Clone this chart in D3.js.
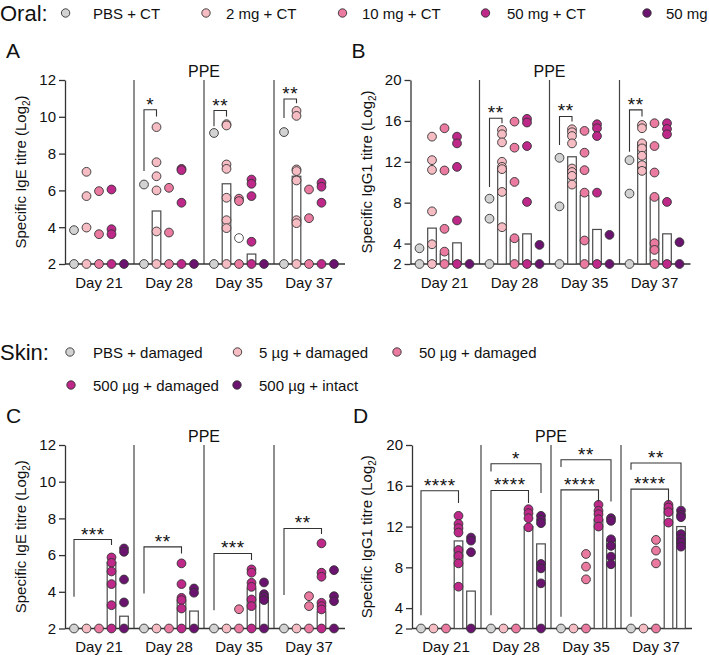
<!DOCTYPE html>
<html lang="en">
<head>
<meta charset="UTF-8">
<script src="https://d3js.org/d3.v7.min.js"></script>
<title>PPE titres</title>
<style>
  body { margin: 0; background: #fff; }
  svg text { font-family: "Liberation Sans", Arial, sans-serif; fill: #111; }
</style>
</head>
<body>
<svg id="fig" width="709" height="655"></svg>
<script>
// ---- data ----
const days = ["Day 21", "Day 28", "Day 35", "Day 37"];
const oralGroups = ["PBS + CT", "2 mg + CT", "10 mg + CT", "50 mg + CT", "50 mg"];
const skinGroups = ["PBS + damaged", "5 µg + damaged", "50 µg + damaged", "500 µg + damaged", "500 µg + intact"];
const groupColors = ["#d2d2d2", "#f6bcc3", "#eb7aa0", "#bd2889", "#6a1470"];

// values per day -> per group (Log2 titre)
const igeOral = [
  [[3.84, 2], [7.01, 5.69, 3.98, 2], [5.96, 3.62, 2], [6.05, 3.89, 3.62, 2], [2]],
  [[6.32, 2], [9.44, 7.53, 6.77, 6.0, 3.77, 2], [6.14, 3.71, 2], [7.17, 7.1, 5.33, 2], [2]],
  [[9.12, 2], [9.6, 9.53, 7.41, 7.17, 5.6, 4.38, 3.95, 2], [5.55, 5.42, 2], [6.59, 6.36, 5.69, 3.21, 2], [2]],
  [[9.17, 2], [10.32, 10.05, 7.14, 7.05, 6.54, 4.38, 4.22, 2], [6.05, 4.49, 2], [6.41, 6.2, 5.33, 2], [2]]
];
const igeOralMedian = [
  [null, null, null, null, null],
  [null, 4.88, null, null, null],
  [null, 6.36, null, 2.54, null],
  [null, 6.77, null, null, null]
];
const igeOralOpen = [[2, 2, 3.41]]; // [day, group, value], unfilled marker
const igeOralSig = [
  [1, 0, 1, 10.38, 7.05, 10.02, "*"],
  [2, 0, 1, 10.34, 9.48, 10.02, "**"],
  [3, 0, 1, 10.97, 9.93, 10.74, "**"]
];

const igg1Oral = [
  [[3.54, 2], [14.46, 12.16, 11.21, 7.15, 3.93, 2], [15.28, 11.15, 5.44, 3.21, 2], [14.46, 13.8, 11.5, 6.26, 2], [2]],
  [[8.39, 6.43, 2], [15.11, 14.69, 13.9, 12.0, 11.5, 11.28, 9.05, 5.6], [15.93, 13.38, 10.03, 4.52, 2], [16.2, 15.84, 13.54, 8.07, 2], [3.87, 2]],
  [[12.39, 7.64, 2], [15.18, 14.89, 14.52, 13.8, 11.34, 11.0, 10.62, 9.77], [15.02, 12.89, 11.18, 8.98, 4.3, 2], [15.67, 15.28, 14.52, 8.98, 2], [4.85, 2]],
  [[12.16, 8.89, 2], [15.6, 15.28, 13.8, 13.31, 12.59, 11.67, 11.11], [15.77, 13.54, 10.95, 8.56, 4.03, 3.38, 2], [15.77, 15.21, 14.69, 8.07, 2], [4.13, 2]]
];
const igg1OralMedian = [
  [null, 5.51, 3.0, 4.07, null],
  [null, 11.34, 4.39, 4.95, null],
  [null, 12.49, 8.72, 5.38, null],
  [null, 13.9, 8.46, 4.95, null]
];
const igg1OralSig = [
  [1, 0, 1, 16.26, 9.54, 15.77, "**"],
  [2, 0, 1, 16.43, 13.64, 15.93, "**"],
  [3, 0, 1, 17.08, 12.98, 16.43, "**"]
];

const igeSkin = [
  [[2], [2], [2], [5.87, 5.58, 5.11, 4.42, 3.27, 2], [6.36, 6.18, 4.67, 3.42, 2]],
  [[2], [2], [2], [5.55, 4.42, 3.67, 3.55, 3.09, 2], [4.18, 3.95, 2]],
  [[2], [2], [3.05, 2], [5.22, 5.04, 4.49, 4.27, 3.58, 3.22, 2], [4.51, 3.87, 3.73, 3.55, 2]],
  [[2], [2], [3.76, 3.22, 2], [6.64, 5.04, 4.82, 3.4, 3.22, 3.04, 2], [5.18, 3.76, 3.49, 2]]
];
const igeSkinMedian = [
  [null, null, null, 5.6, 2.67],
  [null, null, null, 3.55, 2.95],
  [null, null, null, 4.18, 3.73],
  [null, null, null, 2.91, null]
];
const igeSkinSig = [
  [0, 0, 3, 6.85, 3.73, 6.55, "***"],
  [1, 0, 3, 6.45, 3.91, 6.09, "**"],
  [2, 0, 3, 6.09, 3.0, 5.73, "***"],
  [3, 0, 3, 7.45, 3.82, 7.15, "**"]
];

const igg1Skin = [
  [[2], [2], [2], [13.05, 12.26, 11.84, 11.41, 9.7, 9.11, 8.39, 6.1], [10.92, 10.62, 9.48, 2]],
  [[2], [2], [2], [13.7, 13.31, 12.82, 11.93], [13.05, 12.66, 12.33, 8.33, 7.9, 6.43, 2]],
  [[2], [2], [9.31, 8.07, 6.82, 2], [14.13, 13.54, 13.21, 12.72, 12.0], [12.82, 12.56, 10.75, 10.1, 9.05, 8.3]],
  [[2], [2], [10.69, 9.64, 8.39, 2], [14.13, 13.87, 13.41, 12.39], [13.57, 13.15, 12.92, 11.25, 10.79, 10.43, 10.03]]
];
const igg1SkinMedian = [
  [null, null, null, 10.59, 5.67],
  [null, null, null, 12.0, 10.3],
  [null, null, null, 12.66, 10.69],
  [null, null, null, 13.8, 12.0]
];
const igg1SkinSig = [
  [0, 0, 3, 15.51, 3.31, 14.3, "****"],
  [1, 0, 3, 15.54, 3.31, 14.3, "****"],
  [1, 0, 4, 18.16, 17.4, 15.28, "*"],
  [2, 0, 3, 15.6, 3.15, 14.46, "****"],
  [2, 0, 4, 18.56, 17.84, 14.46, "**"],
  [3, 0, 3, 15.67, 3.15, 14.46, "****"],
  [3, 0, 4, 18.23, 17.57, 14.03, "**"]
];

const igeTicks = [2, 4, 6, 8, 10, 12];
const igg1Ticks = [2, 4, 8, 12, 16, 20];

// ---- drawing ----
const svg = d3.select("#fig");
const R = 4.4;

function drawPanel(c) {
  const g = svg.append("g");
  const x = d3.scaleBand().domain(days).range([c.x0, c.x0 + 280]);
  const gx = d3.scalePoint().domain(d3.range(5)).range([10, 60]);
  const y = d3.scaleLinear().domain([2, c.ticks[c.ticks.length - 1]]).range([c.yBot, c.yTop]);
  const px = (d, k) => x(days[d]) + gx(k);

  // panel letter + title
  g.append("text").attr("x", c.axisX - 59).attr("y", c.yTop - 22)
    .attr("font-size", 21).text(c.letter);
  g.append("text").attr("x", c.x0 + 140).attr("y", c.yTop - 3)
    .attr("text-anchor", "middle").attr("font-size", 16).text("PPE");

  // separators between days
  g.selectAll("line.sep").data(days.slice(1)).join("line").attr("class", "sep")
    .attr("x1", d => x(d)).attr("x2", d => x(d))
    .attr("y1", c.yTop).attr("y2", c.yBot)
    .attr("stroke", "#444").attr("stroke-width", 1.2);

  // y axis
  g.append("g").attr("transform", `translate(${c.axisX},0)`)
    .call(d3.axisLeft(y).tickValues(c.ticks).tickSize(6).tickSizeOuter(0).tickPadding(3))
    .call(a => a.selectAll("text").attr("font-size", 15).attr("font-family", null))
    .call(a => a.selectAll("line,path").attr("stroke", "#333").attr("stroke-width", 1.3));

  // x axis
  g.append("line").attr("x1", c.axisX).attr("x2", c.x0 + 281)
    .attr("y1", c.yBot).attr("y2", c.yBot).attr("stroke", "#333").attr("stroke-width", 1.3);
  g.append("g").attr("transform", `translate(0,${c.yBot})`)
    .call(d3.axisBottom(x).tickSize(0).tickPadding(13))
    .call(a => a.select(".domain").remove())
    .call(a => a.selectAll("text").attr("font-size", 15).attr("font-family", null));

  // y title
  const t = g.append("text")
    .attr("transform", `translate(${c.titleX},${(c.yTop + c.yBot) / 2}) rotate(-90)`)
    .attr("text-anchor", "middle").attr("font-size", 15);
  t.append("tspan").text(c.yLabel + " (Log");
  t.append("tspan").attr("font-size", 10).attr("dy", 4).text("2");
  t.append("tspan").attr("dy", -4).text(")");

  // median bars
  const bars = [];
  c.median.forEach((row, d) => row.forEach((v, k) => { if (v != null) bars.push({ d, k, v }); }));
  g.selectAll("rect.bar").data(bars).join("rect").attr("class", "bar")
    .attr("x", b => px(b.d, b.k) - 4.3).attr("width", 8.6)
    .attr("y", b => y(b.v)).attr("height", b => y(2) - y(b.v))
    .attr("fill", "#fff").attr("stroke", "#4a4a4a").attr("stroke-width", 1.2);

  // points
  const pts = [];
  c.values.forEach((row, d) => row.forEach((vals, k) => vals.forEach(v => pts.push({ d, k, v }))));
  g.selectAll("circle.pt").data(pts).join("circle").attr("class", "pt")
    .attr("cx", p => px(p.d, p.k)).attr("cy", p => y(p.v)).attr("r", R)
    .attr("fill", p => groupColors[p.k]).attr("stroke", "#333").attr("stroke-width", 0.9);
  if (c.open) {
    g.selectAll("circle.open").data(c.open).join("circle").attr("class", "open")
      .attr("cx", o => px(o[0], o[1])).attr("cy", o => y(o[2])).attr("r", R)
      .attr("fill", "#fff").attr("stroke", "#444").attr("stroke-width", 0.9);
  }

  // significance brackets
  const sig = g.selectAll("g.sig").data(c.sig).join("g").attr("class", "sig");
  sig.append("path")
    .attr("d", s => `M${px(s[0], s[1])},${y(s[4])}V${y(s[3])}H${px(s[0], s[2])}V${y(s[5])}`)
    .attr("fill", "none").attr("stroke", "#333").attr("stroke-width", 1.1);
  sig.append("text")
    .attr("x", s => (px(s[0], s[1]) + px(s[0], s[2])) / 2)
    .attr("y", s => y(s[3]) + 1)
    .attr("text-anchor", "middle").attr("font-size", 19).attr("letter-spacing", 0.5)
    .text(s => s[6]);
}

drawPanel({ letter: "A", x0: 64, axisX: 65, yTop: 80, yBot: 264, ticks: igeTicks, titleX: 26,
  yLabel: "Specific IgE titre", values: igeOral, median: igeOralMedian, open: igeOralOpen, sig: igeOralSig });
drawPanel({ letter: "B", x0: 409.5, axisX: 410.5, yTop: 80, yBot: 264, ticks: igg1Ticks, titleX: 372,
  yLabel: "Specific IgG1 titre", values: igg1Oral, median: igg1OralMedian, sig: igg1OralSig });
drawPanel({ letter: "C", x0: 64, axisX: 65, yTop: 445, yBot: 628.5, ticks: igeTicks, titleX: 26,
  yLabel: "Specific IgE titre", values: igeSkin, median: igeSkinMedian, sig: igeSkinSig });
drawPanel({ letter: "D", x0: 411, axisX: 412, yTop: 445, yBot: 628.5, ticks: igg1Ticks, titleX: 372,
  yLabel: "Specific IgG1 titre", values: igg1Skin, median: igg1SkinMedian, sig: igg1SkinSig });

// ---- legends ----
function legendRow(labels, idx, cy, cxs, txs) {
  const g = svg.append("g");
  idx.forEach((k, i) => {
    g.append("circle").attr("cx", cxs[i]).attr("cy", cy).attr("r", 4.2)
      .attr("fill", groupColors[k]).attr("stroke", "#333").attr("stroke-width", 0.9);
    g.append("text").attr("x", txs[i]).attr("y", cy + 5.5).attr("font-size", 15).text(labels[k]);
  });
}
svg.append("text").attr("x", 0).attr("y", 21).attr("font-size", 22).text("Oral:");
legendRow(oralGroups, [0, 1, 2, 3, 4], 13, [65.6, 206, 342.5, 485.5, 647], [93, 226, 362, 507, 666]);
svg.append("text").attr("x", 0).attr("y", 360).attr("font-size", 22).text("Skin:");
legendRow(skinGroups, [0, 1, 2], 352, [70, 237.5, 397], [93, 259, 419]);
legendRow(skinGroups, [3, 4], 385, [71, 237], [93, 259]);
</script>
</body>
</html>
